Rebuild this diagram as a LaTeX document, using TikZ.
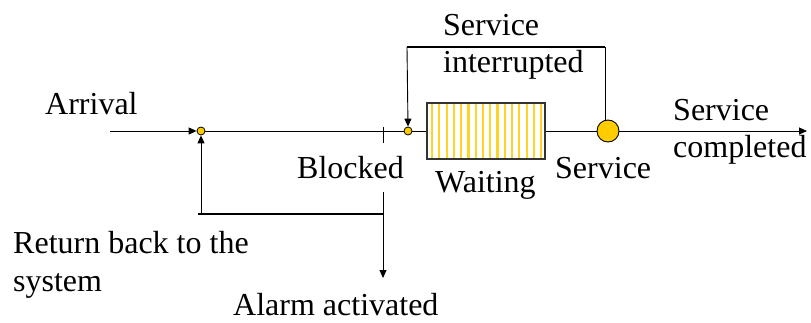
\documentclass[tikz,border=0pt]{standalone}
\usepackage{fontspec}
\setmainfont{Liberation Serif}
\usetikzlibrary{arrows.meta}
\definecolor{qyellow}{HTML}{FFCC00}
\begin{document}
\begin{tikzpicture}[x=1pt,y=-1pt,
  line/.style={draw=black,line width=0.9pt},
  thickline/.style={draw=black,line width=1.8pt},
  arr/.style={line,-{Triangle[length=8pt,width=7pt]}},
  junction/.style={circle,draw=black,fill=qyellow,line width=0.8pt,minimum size=8pt,inner sep=0pt},
  server/.style={circle,draw=black,fill=qyellow,line width=0.9pt,minimum size=22pt,inner sep=0pt},
  queuebox/.style={rectangle,draw=black!80,line width=1.2pt,minimum width=118pt,minimum height=56pt,inner sep=0pt},
  lbl/.style={inner sep=0pt,anchor=base west,align=left,font=\fontsize{32}{37.5}\selectfont}]
\useasboundingbox[fill=white] (0,0) rectangle (811,323);

% nodes
\node[queuebox] (queue) at (486,131) {};
\foreach \i in {0,...,15}{
  \fill[qyellow!85] ({431+\i*7.27},104) rectangle ({433.2+\i*7.27},158);
}
\node[queuebox] at (486,131) {};
\node[junction] (j1) at (201,131) {};
\node[junction] (j2) at (408,131) {};
\node[server] (srv) at (608,131) {};

\coordinate (start) at (110,131);
\coordinate (finish) at (807,131);
\coordinate (ticktop) at (383,127);
\coordinate (tickbot) at (383,143);
\coordinate (blocktop) at (383,192);
\coordinate (alarmend) at (383,278);
\coordinate (retright) at (383,214);
\coordinate (retleft) at (201,214);
\coordinate (fbtop) at (407,47);

% labels (multi-line nodes: base anchor = last line)
\node[lbl] (arrival) at (45,115) {Arrival};
\node[lbl] (interr) at (443,73) {Service\\interrupted};
\node[lbl] (blocked) at (297,179) {Blocked};
\node[lbl] (waiting) at (435,193) {Waiting};
\node[lbl] (service) at (555,179) {Service};
\node[lbl] (completed) at (673,158) {Service\\completed};
\node[lbl] (return) at (13,291) {Return back to the\\system};
\node[lbl] (alarm) at (233,315) {Alarm activated};

% connectors
\draw[arr] (start) -- (j1.west);
\draw[line] (j1.east) -- (j2.west);
\draw[line] (ticktop) -- (tickbot);
\draw[line] (j2.east) -- (queue.west);
\draw[line] (queue.east) -- (srv.west);
\draw[arr] (srv.east) -- (finish);
\draw[line] (srv.north -| 605,0) -- (605,47);
\draw[thickline] (605,47) -- (fbtop);
\draw[arr] (fbtop) -- (j2.north);
\draw[arr] (blocktop) -- (alarmend);
\draw[thickline] (retright) -- ([xshift=-3pt]retleft);
\draw[arr] (retleft) -- (j1.south);
\end{tikzpicture}
\end{document}
